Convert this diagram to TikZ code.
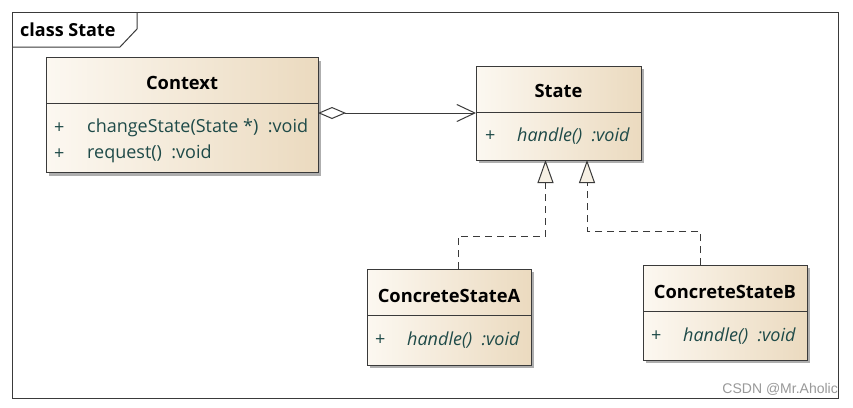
\documentclass[tikz,border=0pt]{standalone}
\usepackage{fontspec}
\setmainfont{Open Sans}
\newfontfamily\wmfont{Liberation Sans}
\usetikzlibrary{arrows.meta,shadows}
\definecolor{frameC}{HTML}{3A3A3A}
\definecolor{boxL}{HTML}{FCF8F1}
\definecolor{boxR}{HTML}{EBDABF}
\definecolor{methC}{HTML}{1E4A48}
\definecolor{shadowC}{HTML}{9A9A9A}
\definecolor{triC}{HTML}{F6F0E4}
\tikzset{
  classbox/.style={draw=frameC, line width=1pt, left color=boxL, right color=boxR,
    drop shadow={shadow xshift=3pt, shadow yshift=-3pt, fill=shadowC, opacity=0.8},
    inner sep=0, outer sep=0},
  divider/.style={draw=frameC, line width=1pt},
  ctitle/.style={font=\bfseries\fontsize{18.3}{21}\selectfont, text=black},
  meth/.style={font=\fontsize{18}{21}\selectfont, text=methC, anchor=west, inner sep=0},
  imeth/.style={font=\itshape\fontsize{18}{21}\selectfont, text=methC, anchor=west, inner sep=0},
  conn/.style={draw=frameC, line width=1pt},
  realize/.style={conn, dash pattern=on 7pt off 5pt},
  gentip/.style={-{Triangle[open, length=23pt, width=16pt, fill=triC, line width=1pt]}},
}
\begin{document}
\begin{tikzpicture}[x=1pt,y=-1pt]
\useasboundingbox (0,0) rectangle (853,407);
\fill[white] (0,0) rectangle (853,407);
% frame
\draw[frameC, line width=1pt] (12,12) rectangle (838,398);
\draw[frameC, line width=1pt] (12,47) -- (120,47) -- (137,29) -- (137,12);
\node[font=\bfseries\fontsize{18}{21}\selectfont, anchor=west, inner sep=0] (frametitle) at (20,30) {class State};

% Context
\node[classbox, minimum width=272pt, minimum height=115pt] (ctx) at (182,115) {};
\draw[divider] (46,103) -- (318,103);
\node[ctitle] (ctxT) at (182,83) {Context};
\node[meth] (ctxP1) at (54,128) {+};
\node[meth] (ctxM1) at (87,128) {changeState(State *)\ \ :void};
\node[meth] (ctxP2) at (54,154) {+};
\node[meth] (ctxM2) at (87,154) {request()\ \ :void};

% State
\node[classbox, minimum width=165pt, minimum height=94pt] (st) at (558.5,113) {};
\draw[divider] (476,112) -- (641,112);
\node[ctitle] (stT) at (558.5,91) {State};
\node[meth] (stP) at (485,136) {+};
\node[imeth] (stM) at (517,136) {handle()\ \ :void};

% ConcreteStateA
\node[classbox, minimum width=164pt, minimum height=96pt] (ca) at (449,317) {};
\draw[divider] (367,315) -- (531,315);
\node[ctitle] (caT) at (449,296) {ConcreteStateA};
\node[meth] (caP) at (375,340) {+};
\node[imeth] (caM) at (407,340) {handle()\ \ :void};

% ConcreteStateB
\node[classbox, minimum width=164pt, minimum height=95pt] (cb) at (725,312.5) {};
\draw[divider] (643,311) -- (807,311);
\node[ctitle] (cbT) at (725,292) {ConcreteStateB};
\node[meth] (cbP) at (651,336) {+};
\node[imeth] (cbM) at (683,336) {handle()\ \ :void};

% aggregation
\coordinate (aggY) at (0,113);
\draw[conn, {Diamond[open, length=28pt, width=12pt, fill=white, line width=1pt]}-{Straight Barb[length=18pt, width=17pt, line width=1pt]}]
  (ctx.east |- aggY) -- (st.west |- aggY);

% generalizations
\coordinate (ga) at (545.5,160);
\coordinate (gb) at (587,160);
\coordinate (ja) at (545.5,236);
\coordinate (jb) at (587,231);
\draw[realize] (ca.north -| 458,0) |- (ja) -- (545.5,183);
\draw[conn, gentip] (545.5,184) -- (st.south -| ga);
\draw[realize] (cb.north -| 700,0) |- (jb) -- (587,183);
\draw[conn, gentip] (587,184) -- (st.south -| gb);

% watermark
\node[font=\wmfont\fontsize{14}{16}\selectfont, text=gray!80, anchor=east, inner sep=0] (wm) at (838,389) {CSDN @Mr.Aholic};
\end{tikzpicture}
\end{document}
